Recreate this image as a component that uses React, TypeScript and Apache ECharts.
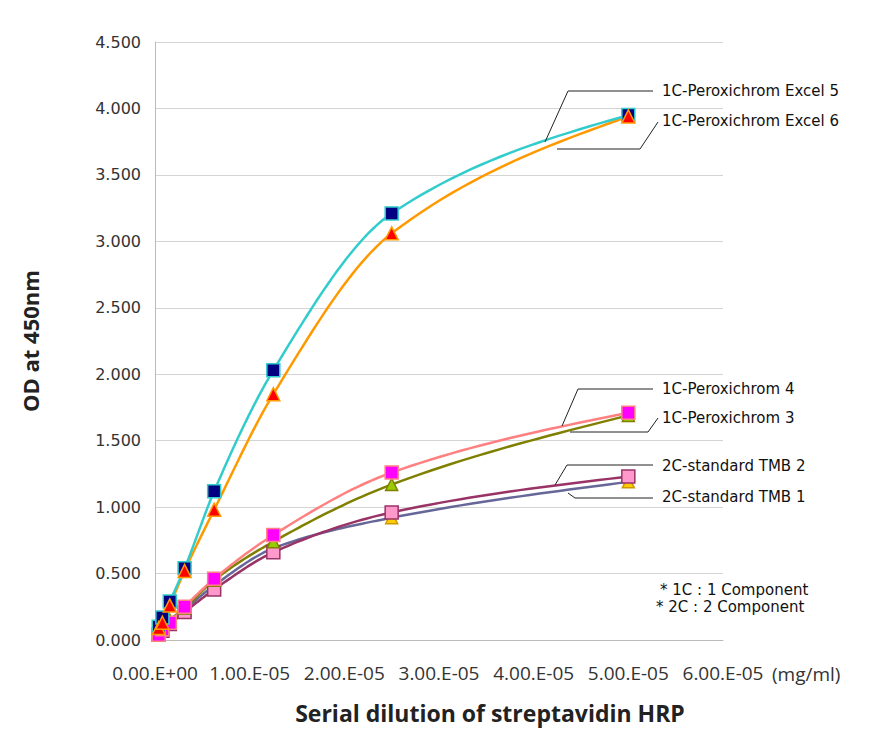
import React, { useEffect, useRef } from "react";
import * as echarts from "echarts";

const dilutions = [3.90625e-7, 7.8125e-7, 1.5625e-6, 3.125e-6, 6.25e-6, 1.25e-5, 2.5e-5, 5e-5];
const excel5 = [0.10, 0.17, 0.29, 0.54, 1.12, 2.03, 3.21, 3.95];
const excel6 = [0.09, 0.13, 0.26, 0.52, 0.98, 1.85, 3.06, 3.94];
const perox4 = [0.04, 0.08, 0.13, 0.25, 0.46, 0.79, 1.26, 1.71];
const perox3 = [0.05, 0.09, 0.15, 0.24, 0.45, 0.74, 1.17, 1.69];
const tmb2 = [0.04, 0.07, 0.12, 0.21, 0.38, 0.66, 0.96, 1.23];
const tmb1 = [0.05, 0.08, 0.14, 0.23, 0.41, 0.69, 0.92, 1.19];
const yTicks = { min: 0, max: 4.5, interval: 0.5 };
const xTicks = { min: 0, max: 6e-5, interval: 1e-5 };
const seriesNames = [
  "1C-Peroxichrom Excel 5",
  "1C-Peroxichrom Excel 6",
  "1C-Peroxichrom 4",
  "1C-Peroxichrom 3",
  "2C-standard TMB 2",
  "2C-standard TMB 1",
];
const notes = ["* 1C : 1 Component", "* 2C : 2 Component"];

// monotone cubic Hermite tangents
function tangents(xs: number[], ys: number[]) {
  const n = xs.length;
  const h: number[] = [];
  const m: number[] = [];
  for (let i = 0; i < n - 1; i++) {
    h.push(xs[i + 1] - xs[i]);
    m.push((ys[i + 1] - ys[i]) / h[i]);
  }
  const t = new Array(n).fill(0);
  for (let i = 1; i < n - 1; i++) {
    if (m[i - 1] * m[i] <= 0) t[i] = 0;
    else {
      const w1 = 2 * h[i] + h[i - 1];
      const w2 = h[i] + 2 * h[i - 1];
      t[i] = (w1 + w2) / (w1 / m[i - 1] + w2 / m[i]);
    }
  }
  const endT = (mm: number, tp: number) => {
    let v = (3 * mm - tp) / 2;
    if (v * mm < 0) v = 0;
    if (Math.abs(v) > 3 * Math.abs(mm)) v = 3 * mm;
    return v;
  };
  t[0] = endT(m[0], t[1]);
  t[n - 1] = endT(m[n - 2], t[n - 2]);
  return { h, t };
}

function curvePoints(xs: number[], ys: number[]) {
  const { h, t } = tangents(xs, ys);
  const out: number[][] = [];
  const steps = 24;
  for (let i = 0; i < xs.length - 1; i++) {
    for (let k = 0; k <= steps; k++) {
      if (i > 0 && k === 0) continue;
      const s = k / steps;
      const h00 = 2 * s * s * s - 3 * s * s + 1;
      const h10 = s * s * s - 2 * s * s + s;
      const h01 = -2 * s * s * s + 3 * s * s;
      const h11 = s * s * s - s * s;
      const x = xs[i] + s * h[i];
      const y = h00 * ys[i] + h10 * h[i] * t[i] + h01 * ys[i + 1] + h11 * h[i] * t[i + 1];
      out.push([x, y]);
    }
  }
  return out;
}

export default function App() {
  const ref = useRef<HTMLDivElement>(null);
  useEffect(() => {
    document.body.style.margin = "0";
    const chart = echarts.init(ref.current!, undefined, { renderer: "svg" });
    const curve = (name: string, vals: number[], color: string) => {
      const pts = curvePoints(dilutions, vals);
      return {
        name: name + " line",
        type: "custom",
        data: dilutions.map((d, i) => [d, vals[i]]),
        z: 2,
        silent: true,
        renderItem: (params: any, api: any) => {
          if (params.dataIndex !== 0) return null;
          return {
            type: "polyline",
            shape: { points: pts.map((p) => api.coord(p)) },
            style: { stroke: color, lineWidth: 2.5, fill: "none" },
          };
        },
      };
    };
    const marks = (name: string, vals: number[], symbol: string, fill: string, border: string, size: number) => ({
      name,
      type: "scatter",
      data: dilutions.map((d, i) => [d, vals[i]]),
      symbol,
      symbolSize: size,
      itemStyle: { color: fill, borderColor: border, borderWidth: 1.5, opacity: 1 },
      z: 3,
    });
    const leader = (pts: number[][]) => ({
      type: "polyline",
      shape: { points: pts },
      style: { stroke: "#222", lineWidth: 1, fill: null },
      z: 10,
    });
    const txt = (text: string, x: number, y: number, size: number, family: string, color = "#111") => ({
      type: "text",
      x,
      y,
      style: {
        text,
        fill: color,
        fontSize: size,
        fontFamily: family,
        verticalAlign: "middle",
      },
      z: 10,
    });
    chart.setOption({
      animation: false,
      backgroundColor: "#fff",
      grid: { left: 155, right: 163, top: 42, bottom: 111 },
      xAxis: {
        type: "value",
        min: xTicks.min,
        max: xTicks.max,
        interval: xTicks.interval,
        axisLine: { show: true, lineStyle: { color: "#bbb" } },
        axisTick: { show: false },
        splitLine: { show: false },
        axisLabel: {
          margin: 23,
          color: "#333",
          fontSize: 19,
          fontFamily: "'Open Sans', sans-serif",
          formatter: (v: number) => (v === 0 ? "0.00.E+00" : (v / 1e-5).toFixed(2) + ".E-05"),
        },
      },
      yAxis: {
        type: "value",
        min: yTicks.min,
        max: yTicks.max,
        interval: yTicks.interval,
        name: "OD at 450nm",
        nameLocation: "middle",
        nameGap: 114,
        nameTextStyle: {
          fontSize: 22,
          fontWeight: "bold",
          color: "#222",
          fontFamily: "'Open Sans', sans-serif",
        },
        axisLine: { show: true, lineStyle: { color: "#bbb" } },
        axisTick: { show: false },
        splitLine: { show: true, lineStyle: { color: "#d4d4d4" } },
        axisLabel: {
          margin: 14,
          color: "#333",
          fontSize: 16,
          fontFamily: "'DejaVu Sans', sans-serif",
          formatter: (v: number) => v.toFixed(3),
        },
      },
      series: [
        curve(seriesNames[5], tmb1, "#666699"),
        curve(seriesNames[4], tmb2, "#993366"),
        curve(seriesNames[3], perox3, "#808000"),
        curve(seriesNames[2], perox4, "#ff8080"),
        curve(seriesNames[1], excel6, "#ff9900"),
        curve(seriesNames[0], excel5, "#33cccc"),
        marks(seriesNames[5], tmb1, "triangle", "#ffcc00", "#cc9900", 12),
        marks(seriesNames[4], tmb2, "rect", "#ff99cc", "#993366", 13),
        marks(seriesNames[3], perox3, "triangle", "#99cc00", "#808000", 12),
        marks(seriesNames[2], perox4, "rect", "#ff00ff", "#ff8080", 13),
        marks(seriesNames[0], excel5, "rect", "#000080", "#33cccc", 13),
        marks(seriesNames[1], excel6, "triangle", "#ff0000", "#ff9900", 13),
      ],
      graphic: [
        leader([[545, 142], [568, 91], [653, 91]]),
        txt(seriesNames[0], 662, 91, 15, "'DejaVu Sans', sans-serif"),
        leader([[557, 149], [640, 149], [658, 122]]),
        txt(seriesNames[1], 662, 121, 15, "'DejaVu Sans', sans-serif"),
        leader([[562, 426], [578, 389], [653, 389]]),
        txt(seriesNames[2], 662, 389, 15, "'DejaVu Sans', sans-serif"),
        leader([[570, 432], [648, 432], [658, 418]]),
        txt(seriesNames[3], 662, 418, 15, "'DejaVu Sans', sans-serif"),
        leader([[555, 485], [567, 465], [653, 465]]),
        txt(seriesNames[4], 662, 466, 15, "'DejaVu Sans', sans-serif"),
        leader([[568, 493], [575, 498], [653, 498]]),
        txt(seriesNames[5], 662, 497, 15, "'DejaVu Sans', sans-serif"),
        txt(notes[0], 660, 590, 15, "'DejaVu Sans', sans-serif"),
        txt(notes[1], 656, 607, 15, "'DejaVu Sans', sans-serif"),
        txt("(mg/ml)", 772, 674, 19, "'Open Sans', sans-serif", "#333"),
        {
          type: "text",
          x: 490,
          y: 713,
          style: {
            text: "Serial dilution of streptavidin HRP",
            fill: "#222",
            fontSize: 23,
            fontWeight: "bold",
            fontFamily: "'Open Sans', sans-serif",
            align: "center",
            verticalAlign: "middle",
          },
        },
      ],
    });
    return () => chart.dispose();
  }, []);
  return <div ref={ref} style={{ width: 886, height: 751 }} />;
}
